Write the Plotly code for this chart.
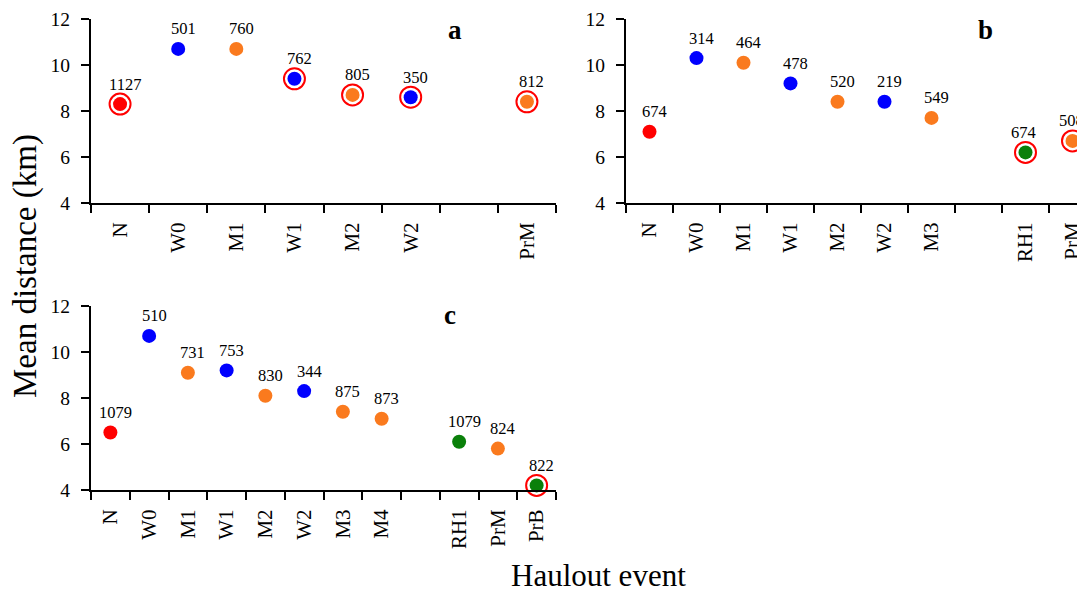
import plotly.graph_objects as go

# ---------------- data ----------------
a_events = ["N", "W0", "M1", "W1", "M2", "W2", "PrM"]
a_mean = [8.3, 10.7, 10.7, 9.4, 8.7, 8.6, 8.4]
a_n = [1127, 501, 760, 762, 805, 350, 812]
a_sig = [True, False, False, True, True, True, True]

b_events = ["N", "W0", "M1", "W1", "M2", "W2", "M3", "RH1", "PrM"]
b_mean = [7.1, 10.3, 10.1, 9.2, 8.4, 8.4, 7.7, 6.2, 6.7]
b_n = [674, 314, 464, 478, 520, 219, 549, 674, 508]
b_sig = [False, False, False, False, False, False, False, True, True]

c_events = ["N", "W0", "M1", "W1", "M2", "W2", "M3", "M4", "RH1", "PrM", "PrB"]
c_mean = [6.5, 10.7, 9.1, 9.2, 8.1, 8.3, 7.4, 7.1, 6.1, 5.8, 4.2]
c_n = [1079, 510, 731, 753, 830, 344, 875, 873, 1079, 824, 822]
c_sig = [False] * 10 + [True]

# axis orders (a blank slot separates the regular cycle from the last events)
GAP = " "
a_order = ["N", "W0", "M1", "W1", "M2", "W2", GAP, "PrM"]
b_order = ["N", "W0", "M1", "W1", "M2", "W2", "M3", GAP, "RH1", "PrM"]
c_order = ["N", "W0", "M1", "W1", "M2", "W2", "M3", "M4", GAP, "RH1", "PrM", "PrB"]

RED, BLUE, ORANGE, GREEN = "#FF0000", "#0000FF", "#FA7A1E", "#0A800A"


def colour(ev):
    if ev == "N":
        return RED
    if ev.startswith("W"):
        return BLUE
    if ev.startswith("RH") or ev == "PrB":
        return GREEN
    return ORANGE


FONT = "Liberation Serif, Times New Roman, serif"
PAGE_W, PAGE_H = 1085, 593
OFF = 8  # default page margin around the plot div
W, H = PAGE_W - OFF, PAGE_H - OFF

fig = go.Figure()

panels = [
    ("a", a_events, a_mean, a_n, a_sig, a_order, "x", "y"),
    ("b", b_events, b_mean, b_n, b_sig, b_order, "x2", "y2"),
    ("c", c_events, c_mean, c_n, c_sig, c_order, "x3", "y3"),
]

annotations = []
for letter, ev, mean, n, sig, order, xa, ya in panels:
    # placeholder so every slot (incl. blank) exists on the category axis
    fig.add_trace(go.Scatter(x=order, y=[None] * len(order), mode="markers",
                             xaxis=xa, yaxis=ya, showlegend=False,
                             hoverinfo="skip"))
    fig.add_trace(go.Scatter(
        x=ev, y=mean, mode="markers", xaxis=xa, yaxis=ya, showlegend=False,
        cliponaxis=False,
        marker=dict(size=14, color=[colour(e) for e in ev], line=dict(width=0)),
    ))
    sx = [e for e, s in zip(ev, sig) if s]
    sy = [m for m, s in zip(mean, sig) if s]
    fig.add_trace(go.Scatter(
        x=sx, y=sy, mode="markers", xaxis=xa, yaxis=ya, showlegend=False,
        cliponaxis=False,
        marker=dict(symbol="circle-open", size=21, color=RED,
                    line=dict(width=2, color=RED)),
    ))
    for e, m, k in zip(ev, mean, n):
        xs = 5
        if letter == "b" and e == "RH1":
            xs = -2
        if letter == "b" and e == "PrM":
            xs = -1
        annotations.append(dict(
            x=e, y=m, xref=xa, yref=ya, text=str(k), showarrow=False,
            xshift=xs, yshift=20, yanchor="middle", xanchor="center",
            font=dict(family=FONT, size=16.5, color="black")))


def px_x(p):
    return (p - OFF) / W


def px_y(p):
    return 1 - (p - OFF) / H


axis_common = dict(
    type="category", showline=True, linewidth=2, linecolor="black",
    ticks="outside", ticklen=8, tickwidth=2, tickcolor="black",
    tickson="boundaries", tickangle=-90, showgrid=False, zeroline=False,
    categoryorder="array", automargin=False, ticklabelstandoff=9,
    tickfont=dict(family=FONT, size=21, color="black"),
)
yaxis_common = dict(
    range=[4, 12], tickvals=[4, 6, 8, 10, 12], showline=True, linewidth=2,
    linecolor="black", ticks="outside", ticklen=8, tickwidth=2,
    tickcolor="black", showgrid=False, zeroline=False, automargin=False,
    ticklabelstandoff=7,
    tickfont=dict(family=FONT, size=19.5, color="black"),
)

fig.update_layout(
    width=W, height=H,
    margin=dict(l=0, r=0, t=0, b=0, autoexpand=False),
    paper_bgcolor="white", plot_bgcolor="white",
    xaxis=dict(axis_common, domain=[px_x(91), px_x(556)], anchor="y",
               categoryarray=a_order, range=[-0.5, len(a_order) - 0.5]),
    yaxis=dict(yaxis_common, domain=[px_y(203), px_y(19)], anchor="x"),
    xaxis2=dict(axis_common, domain=[px_x(626), 1.0], anchor="y2",
                categoryarray=b_order,
                range=[-0.5, -0.5 + (PAGE_W - 626) / 47.0]),
    yaxis2=dict(yaxis_common, domain=[px_y(203), px_y(19)], anchor="x2"),
    xaxis3=dict(axis_common, domain=[px_x(91), px_x(556)], anchor="y3",
                categoryarray=c_order, range=[-0.5, len(c_order) - 0.5]),
    yaxis3=dict(yaxis_common, domain=[px_y(490), px_y(306)], anchor="x3"),
)

# panel letters
for letter, xp, yp in [("a", 455, 30), ("b", 985, 30), ("c", 450, 315)]:
    annotations.append(dict(
        x=px_x(xp), y=px_y(yp), xref="paper", yref="paper", text=f"<b>{letter}</b>",
        showarrow=False, xanchor="center", yanchor="middle",
        font=dict(family=FONT, size=27, color="black")))

# axis titles
annotations.append(dict(
    x=px_x(25), y=px_y(266), xref="paper", yref="paper",
    text="Mean distance (km)", textangle=-90, showarrow=False,
    xanchor="center", yanchor="middle",
    font=dict(family=FONT, size=33, color="black")))
annotations.append(dict(
    x=px_x(598), y=px_y(575), xref="paper", yref="paper",
    text="Haulout event", showarrow=False, xanchor="center", yanchor="middle",
    font=dict(family=FONT, size=31, color="black")))

fig.update_layout(annotations=annotations)

fig.write_html("out.html")
